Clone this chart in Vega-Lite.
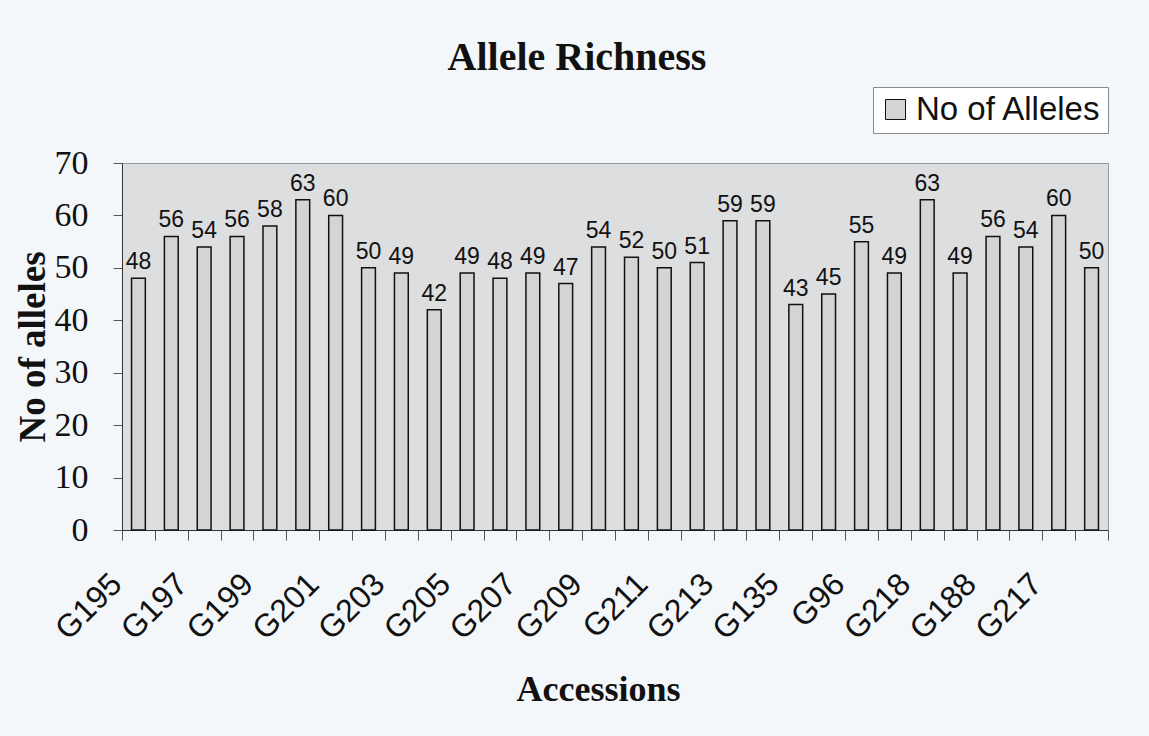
{
  "$schema": "https://vega.github.io/schema/vega-lite/v6.json",
  "width": 986,
  "height": 367,
  "autosize": {"type": "none"},
  "padding": {"left": 122, "top": 163, "right": 41, "bottom": 206},
  "background": "#f4f7fa",
  "title": {
    "text": "Allele Richness",
    "font": "Liberation Serif",
    "fontSize": 40,
    "fontWeight": "bold",
    "color": "#111111",
    "offset": 9,
    "dx": -38
  },
  "config": {
    "view": {"fill": "#dcdedf", "stroke": "#9a9a9a", "strokeWidth": 1}
  },
  "data": {
    "values": [
      {"acc": "G195", "n": 48}, {"acc": "G196", "n": 56}, {"acc": "G197", "n": 54},
      {"acc": "G198", "n": 56}, {"acc": "G199", "n": 58}, {"acc": "G200", "n": 63},
      {"acc": "G201", "n": 60}, {"acc": "G202", "n": 50}, {"acc": "G203", "n": 49},
      {"acc": "G204", "n": 42}, {"acc": "G205", "n": 49}, {"acc": "G206", "n": 48},
      {"acc": "G207", "n": 49}, {"acc": "G208", "n": 47}, {"acc": "G209", "n": 54},
      {"acc": "G210", "n": 52}, {"acc": "G211", "n": 50}, {"acc": "G212", "n": 51},
      {"acc": "G213", "n": 59}, {"acc": "G214", "n": 59}, {"acc": "G135", "n": 43},
      {"acc": "G134", "n": 45}, {"acc": "G96", "n": 55}, {"acc": "G97", "n": 49},
      {"acc": "G218", "n": 63}, {"acc": "G219", "n": 49}, {"acc": "G188", "n": 56},
      {"acc": "G189", "n": 54}, {"acc": "G217", "n": 60}, {"acc": "G216", "n": 50}
    ]
  },
  "encoding": {
    "x": {
      "field": "acc",
      "type": "nominal",
      "sort": null,
      "scale": {"paddingInner": 0, "paddingOuter": 0},
      "axis": {
        "title": "Accessions",
        "titleFont": "Liberation Serif",
        "titleFontSize": 36,
        "titleFontWeight": "bold",
        "titleColor": "#111111",
        "titleX": 476,
        "titleY": 170,
        "titleAlign": "center",
        "titleBaseline": "alphabetic",
        "labelFont": "Liberation Sans",
        "labelFontSize": 32,
        "labelColor": "#111111",
        "labelAngle": -45,
        "labelPadding": 28,
        "labelOffset": -33,
        "labelExpr": "indexof(['G195','G197','G199','G201','G203','G205','G207','G209','G211','G213','G135','G96','G218','G188','G217'], datum.value) >= 0 ? datum.value : ''",
        "tickBand": "extent",
        "tickSize": 10,
        "tickColor": "#555555",
        "domainColor": "#333333",
        "grid": false
      }
    },
    "y": {
      "field": "n",
      "type": "quantitative",
      "scale": {"domain": [0, 70], "nice": false},
      "axis": {
        "title": "No of alleles",
        "titleFont": "Liberation Serif",
        "titleFontSize": 37,
        "titleFontWeight": "bold",
        "titleColor": "#111111",
        "titlePadding": 2,
        "labelFont": "Liberation Serif",
        "labelFontSize": 34,
        "labelColor": "#111111",
        "labelPadding": 25,
        "values": [0, 10, 20, 30, 40, 50, 60, 70],
        "tickSize": 9,
        "tickColor": "#555555",
        "domainColor": "#333333",
        "grid": false
      }
    }
  },
  "layer": [
    {
      "mark": {"type": "bar", "width": {"band": 0.42}, "stroke": "#111111", "strokeWidth": 1.5},
      "encoding": {
        "color": {
          "datum": "No of Alleles",
          "scale": {"range": ["#d2d4d5"]},
          "legend": {
            "title": null,
            "orient": "none",
            "legendX": 751,
            "legendY": -76,
            "symbolType": "square",
            "symbolSize": 400,
            "symbolStrokeColor": "#111111",
            "symbolStrokeWidth": 1,
            "symbolFillColor": "#d2d4d5",
            "labelFont": "Liberation Sans",
            "labelFontSize": 33,
            "labelColor": "#111111",
            "labelLimit": 300,
            "fillColor": "#ffffff",
            "strokeColor": "#8a8a8a",
            "padding": 6
          }
        }
      }
    },
    {
      "mark": {"type": "text", "dy": -16, "font": "Liberation Sans", "fontSize": 23, "color": "#111111"},
      "encoding": {"text": {"field": "n", "type": "quantitative"}}
    }
  ]
}
